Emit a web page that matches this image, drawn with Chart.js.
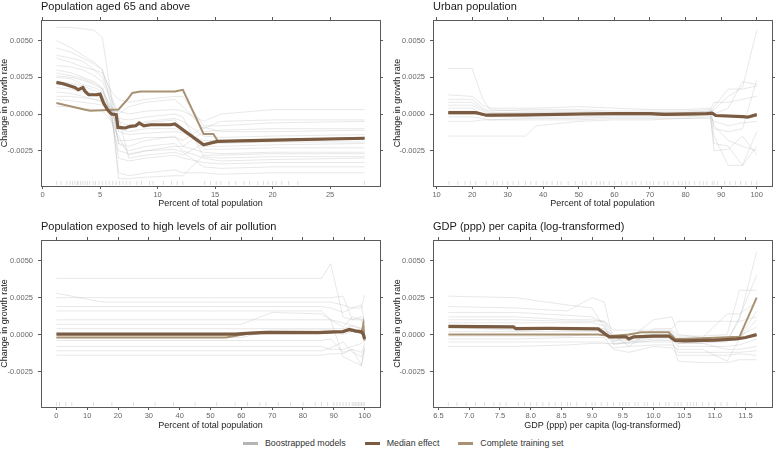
<!DOCTYPE html>
<html>
<head>
<meta charset="utf-8">
<script src="https://cdn.jsdelivr.net/npm/chart.js@4/dist/chart.umd.min.js"></script>
<style>
  body { margin: 0; background: #fff; width: 778px; height: 458px; position: relative; overflow: hidden;
         font-family: "Liberation Sans", Arial, sans-serif; }
  canvas { position: absolute; }
  #legend { position: absolute; top: 436px; left: 243px; height: 14px; display: flex; align-items: center;
            font-size: 8.8px; color: #333; white-space: nowrap; }
  #legend .key { width: 15px; height: 3px; margin-right: 7px; }
  #legend .lab { margin-right: 19px; }
</style>
</head>
<body>
<canvas id="pAged" width="389" height="215" style="left:0;top:0"></canvas>
<canvas id="pUrban" width="389" height="215" style="left:389px;top:0"></canvas>
<canvas id="pAir" width="389" height="215" style="left:0;top:215px"></canvas>
<canvas id="pGdp" width="389" height="215" style="left:389px;top:215px"></canvas>
<div id="legend">
  <span class="key" style="background:#b5b5b5"></span><span class="lab">Boostrapped models</span>
  <span class="key" style="background:#7b5b41"></span><span class="lab">Median effect</span>
  <span class="key" style="background:#a99274"></span><span class="lab">Complete training set</span>
</div>
<script>
(function(){
    "use strict";

    // shared y range and ticks (change in growth rate)
    var yMin = -0.0049, yMax = 0.0064;
    var yTicks = [-0.0025, 0, 0.0025, 0.005];

    // --- Population aged 65 and above ---
    var agedTicks = [0, 5, 10, 15, 20, 25];
    var agedMedX = [1.2, 1.8, 2.8, 3.1, 3.5, 3.7, 4.0, 4.7, 5.0, 5.3, 5.65, 6.0, 6.4, 6.55, 7.2, 7.6, 8.1, 8.4, 8.8, 9.4, 11.1, 11.5, 14.0, 15.2, 20, 28];
    var agedMed = [0.00215, 0.00206, 0.00181, 0.00165, 0.0018, 0.00154, 0.00131, 0.00131, 0.00136, 0.00075, 0.00029, 0.0, -0.00005, -0.00091, -0.00095, -0.00084, -0.0008, -0.00061, -0.0008, -0.00073, -0.00073, -0.00068, -0.0021, -0.00186, -0.00178, -0.00165];
    var agedCompX = [1.2, 3.7, 4.15, 6.6, 7.35, 7.8, 8.5, 11.5, 12.2, 14.0, 14.85, 15.25, 20, 28];
    var agedComp = [0.00075, 0.00029, 0.00022, 0.00031, 0.00097, 0.00143, 0.00154, 0.00154, 0.00165, -0.00136, -0.00136, -0.00186, -0.00178, -0.00165];
    var agedBootX = [1.2, 2.5, 3.5, 4.5, 5.2, 6, 6.6, 7.5, 9, 11.5, 12.2, 14, 15.5, 20, 28];
    var agedBoot = [
        [0.0059, 0.0059, 0.0058, 0.0057, 0.0052, 0.0010, -0.0010, -0.0012, -0.0010, -0.0010, -0.0012, -0.0022, -0.0022, -0.0021, -0.0020],
        [0.0050, 0.0045, 0.0040, 0.0035, 0.0030, 0.0005, -0.0020, -0.0025, -0.0022, -0.0020, -0.0025, -0.0030, -0.0032, -0.0031, -0.0030],
        [0.0038, 0.0035, 0.0032, 0.0030, 0.0028, 0.0015, 0.0010, 0.0008, 0.0010, 0.0012, 0.0012, -0.0008, -0.0008, -0.0006, -0.0005],
        [0.0030, 0.0028, 0.0025, 0.0022, 0.0018, 0.0002, -0.0040, -0.0042, -0.0040, -0.0038, -0.0040, -0.0040, -0.0041, -0.0040, -0.0040],
        [0.0025, 0.0024, 0.0020, 0.0018, 0.0015, 0.0005, -0.0005, -0.0008, -0.0005, -0.0003, -0.0005, -0.0015, -0.0016, -0.0015, -0.0014],
        [0.0020, 0.0019, 0.0016, 0.0014, 0.0012, -0.0002, -0.0030, -0.0032, -0.0030, -0.0028, -0.0030, -0.0033, -0.0034, -0.0033, -0.0033],
        [0.0015, 0.0014, 0.0012, 0.0010, 0.0008, 0.0003, -0.0012, -0.0014, -0.0013, -0.0012, -0.0013, -0.0018, -0.0018, -0.0018, -0.0017],
        [0.0010, 0.0009, 0.0008, 0.0007, 0.0006, 0.0001, 0.0002, 0.0000, 0.0002, 0.0003, 0.0002, -0.0005, 0.0000, 0.0003, 0.0003],
        [0.0033, 0.0032, 0.0030, 0.0026, 0.0022, 0.0008, -0.0020, -0.0022, -0.0018, -0.0015, -0.0022, -0.0026, -0.0027, -0.0026, -0.0026],
        [0.0005, 0.0005, 0.0004, 0.0003, 0.0002, -0.0005, -0.0015, -0.0028, -0.0025, -0.0022, -0.0022, -0.0012, -0.0011, -0.0010, -0.0010],
        [0.0028, 0.0026, 0.0024, 0.0021, 0.0017, 0.0000, -0.0008, -0.0010, -0.0006, -0.0004, -0.0010, -0.0024, -0.0024, -0.0023, -0.0023],
        [0.0018, 0.0017, 0.0015, 0.0013, 0.0010, -0.0005, -0.0025, -0.0027, -0.0025, -0.0024, -0.0026, -0.0036, -0.0037, -0.0036, -0.0036],
        [0.0045, 0.0042, 0.0038, 0.0034, 0.0030, 0.0012, 0.0000, 0.0005, 0.0008, 0.0010, 0.0005, -0.0010, -0.0005, -0.0004, -0.0004],
        [0.0022, 0.0021, 0.0019, 0.0016, 0.0013, 0.0002, -0.0044, -0.0044, -0.0043, -0.0042, -0.0042, -0.0028, -0.0028, -0.0027, -0.0027],
        [0.0040, 0.0038, 0.0036, 0.0030, 0.0025, 0.0010, -0.0002, -0.0030, -0.0028, -0.0026, -0.0028, -0.0020, -0.0020, -0.0019, -0.0019],
        [0.0026, 0.0025, 0.0023, 0.0020, 0.0017, -0.0003, -0.0018, -0.0018, -0.0016, -0.0016, -0.0018, -0.0009, -0.0012, -0.0012, -0.0011],
        [0.0012, 0.0012, 0.0011, 0.0010, 0.0009, 0.0004, -0.0003, -0.0004, -0.0002, 0.0000, -0.0002, -0.0029, -0.0030, -0.0029, -0.0029]
    ];
    var agedRug = [1.2, 1.6, 2.1, 2.4, 2.6, 2.8, 3.0, 3.1, 3.3, 3.5, 3.7, 3.9, 4.1, 4.4, 4.6, 4.9, 5.2, 5.5, 5.8, 6.1, 6.4, 6.7, 7.0, 7.3, 7.6, 8.2, 8.6, 9.3, 9.6, 10.5, 11.2, 11.7, 12.2, 14.1, 14.6, 15.1, 15.5, 16.2, 16.8, 17.5, 18.0, 18.7, 19.2, 19.6, 20.0, 20.3, 20.8, 21.4, 22.2, 28.0];

    // --- Urban population ---
    var urbanTicks = [10, 20, 30, 40, 50, 60, 70, 80, 90, 100];
    var urbanMedX = [13.3, 21, 24, 35, 52, 60, 70, 74, 86, 87.5, 88.5, 96, 97.5, 100];
    var urbanMed = [0.0001, 0.0001, -0.00008, -0.00006, 0.0, 0.00003, 0.00003, -0.00003, 0.00003, 0.00006, -0.0001, -0.00018, -0.00022, -0.00005];
    var urbanComp = [0.00005, 0.00005, -0.0001, -0.00008, 0.00002, 0.0, 0.00002, -0.00005, 0.0, 0.00004, -0.00012, -0.00015, -0.00018, 0.0];
    var urbanBootX = [13.3, 20, 23, 25, 35, 38, 50, 60, 70, 80, 87, 88, 92, 96, 100];
    var urbanBoot = [
        [0.0031, 0.0031, 0.0010, 0.0003, 0.0002, 0.0002, 0.0002, 0.0001, 0.0001, 0.0001, 0.0002, 0.0003, 0.0012, 0.0018, 0.0057],
        [-0.0015, -0.0015, -0.0015, -0.0015, -0.0015, -0.0008, -0.0005, -0.0004, -0.0004, -0.0003, -0.0003, -0.0020, -0.0022, -0.0035, -0.0022],
        [0.0013, 0.0012, 0.0006, 0.0004, 0.0004, 0.0004, 0.0005, 0.0004, 0.0003, 0.0003, 0.0004, -0.0010, -0.0012, -0.0010, 0.0023],
        [-0.0005, -0.0005, -0.0004, -0.0004, -0.0003, -0.0003, -0.0003, -0.0002, -0.0002, -0.0002, -0.0001, -0.0025, -0.0024, -0.0015, -0.0028],
        [0.0008, 0.0008, 0.0003, 0.0001, 0.0001, 0.0001, 0.0001, 0.0001, 0.0001, 0.0000, 0.0001, 0.0005, 0.0017, 0.0017, 0.0019],
        [0.0004, 0.0004, 0.0000, -0.0002, -0.0002, -0.0002, -0.0002, -0.0001, -0.0001, -0.0001, 0.0000, -0.0015, -0.0035, -0.0035, -0.0012],
        [0.0010, 0.0010, 0.0004, 0.0002, 0.0003, 0.0003, 0.0003, 0.0002, 0.0002, 0.0002, 0.0003, 0.0008, 0.0008, 0.0010, 0.0012],
        [-0.0002, -0.0002, -0.0003, -0.0004, -0.0004, -0.0004, -0.0004, -0.0003, -0.0003, -0.0003, -0.0002, -0.0005, -0.0008, -0.0006, -0.0005],
        [0.0002, 0.0002, -0.0001, -0.0001, -0.0001, 0.0000, 0.0000, 0.0000, 0.0000, 0.0000, 0.0001, -0.0008, -0.0018, -0.0022, -0.0025],
        [0.0006, 0.0006, 0.0002, 0.0000, 0.0000, 0.0000, 0.0001, 0.0001, 0.0001, 0.0001, 0.0002, 0.0000, 0.0004, 0.0022, 0.0020]
    ];
    var urbanRug = [13.5, 16, 18, 19.5, 21, 24, 26, 27, 28.5, 30, 31.5, 33, 35, 36.5, 38, 40, 41, 42.5, 44, 45, 47, 49, 51, 52, 53.5, 55, 56, 57, 58.5, 60, 62, 63.5, 65, 66, 67.5, 69, 70, 71, 72.5, 74, 75, 76.5, 78, 79, 80, 81, 82.5, 84, 85, 86, 87.5, 88, 89, 91, 92.5, 94, 95.5, 97, 98.5, 100];

    // --- Population exposed to high levels of air pollution ---
    var airTicks = [0, 10, 20, 30, 40, 50, 60, 70, 80, 90, 100];
    var airMedX = [0, 58, 63, 68, 85, 90, 93, 95, 97, 99, 99.6, 100];
    var airMed = [0.00003, 0.00003, 0.0001, 0.00015, 0.00013, 0.00018, 0.0002, 0.00035, 0.00025, 0.0002, 0.0, -0.0003];
    var airCompX = [0, 55, 62, 68, 85, 90, 93, 95, 97, 99, 99.6, 100];
    var airComp = [-0.0002, -0.0002, 0.00005, 0.0001, 0.0001, 0.00015, 0.0002, 0.0003, 0.0002, 0.0001, 0.0007, -0.0004];
    var airBootX = [0, 15, 50, 60, 70, 86, 89, 93, 96, 99, 100];
    var airBoot = [
        [0.0038, 0.0038, 0.0038, 0.0038, 0.0038, 0.0038, 0.0048, 0.0012, 0.0010, 0.0012, 0.0008],
        [0.0028, 0.0022, 0.0022, 0.0022, 0.0022, 0.0022, 0.0022, 0.0020, 0.0018, 0.0018, 0.0027],
        [0.0025, 0.0025, 0.0025, 0.0025, 0.0025, 0.0025, 0.0025, 0.0026, 0.0010, 0.0010, 0.0005],
        [0.0019, 0.0019, 0.0019, 0.0019, 0.0019, 0.0019, 0.0018, 0.0015, 0.0018, 0.0020, 0.0008],
        [0.0016, 0.0016, 0.0016, 0.0016, 0.0016, 0.0016, 0.0010, 0.0005, 0.0012, 0.0010, 0.0000],
        [0.0010, 0.0010, 0.0010, 0.0010, 0.0010, 0.0010, 0.0010, -0.0015, -0.0018, -0.0021, -0.0010],
        [0.0007, 0.0007, 0.0007, 0.0007, 0.0015, 0.0014, 0.0010, 0.0008, 0.0006, 0.0004, 0.0002],
        [0.0004, 0.0004, 0.0004, 0.0004, 0.0004, 0.0004, 0.0004, 0.0004, 0.0006, 0.0004, -0.0005],
        [-0.0004, -0.0004, -0.0004, -0.0004, -0.0004, -0.0004, -0.0003, -0.0012, -0.0010, -0.0021, -0.0008],
        [-0.0008, -0.0008, -0.0008, -0.0008, -0.0008, -0.0008, -0.0010, -0.0010, -0.0008, -0.0006, -0.0004],
        [-0.0011, -0.0011, -0.0011, -0.0011, -0.0011, -0.0011, -0.0009, -0.0005, -0.0012, -0.0015, -0.0010],
        [-0.0014, -0.0014, -0.0014, -0.0014, -0.0014, -0.0014, -0.0013, -0.0013, -0.0010, -0.0012, -0.0006],
        [-0.0002, -0.0002, -0.0002, -0.0002, 0.0003, 0.0003, 0.0003, 0.0000, 0.0002, 0.0002, 0.0001]
    ];
    var airRug = [0, 1, 3, 5, 12, 18, 25, 32, 38, 45, 52, 58, 62, 66, 68, 72, 76, 80, 84, 86, 88, 90, 91, 92, 93, 94, 95, 96, 96.5, 97, 97.5, 98, 98.5, 99, 99.5, 100];

    // --- GDP (ppp) per capita (log-transformed) ---
    var gdpTicks = [6.5, 7.0, 7.5, 8.0, 8.5, 9.0, 9.5, 10.0, 10.5, 11.0, 11.5];
    var gdpMedX = [6.66, 7.72, 7.76, 8.3, 9.1, 9.28, 9.55, 9.6, 9.68, 10.0, 10.25, 10.35, 10.5, 11.0, 11.35, 11.5, 11.68];
    var gdpMed = [0.00055, 0.00052, 0.0004, 0.00042, 0.00038, -0.00015, -0.00015, -0.0003, -0.00015, -0.0001, -0.0001, -0.0004, -0.00042, -0.00038, -0.0003, -0.0002, 0.0];
    var gdpCompX = [6.66, 9.1, 9.3, 9.6, 9.8, 10.25, 10.35, 10.5, 11.4, 11.68];
    var gdpComp = [0.0, 0.0, -0.0001, 0.0, 0.00015, 0.00015, -0.0003, -0.0003, -0.00015, 0.0025];
    var gdpBootX = [6.66, 7.75, 8.6, 9.0, 9.2, 9.35, 9.6, 10.0, 10.3, 10.4, 10.8, 11.2, 11.4, 11.68];
    var gdpBoot = [
        [0.0026, 0.0025, 0.0020, 0.0018, 0.0005, -0.0002, -0.0002, 0.0000, 0.0000, -0.0005, -0.0006, -0.0004, 0.0010, 0.0056],
        [0.0019, 0.0018, 0.0016, 0.0025, 0.0022, -0.0005, 0.0000, 0.0002, 0.0002, -0.0006, -0.0005, -0.0005, 0.0012, 0.0040],
        [0.0012, 0.0012, 0.0010, 0.0010, 0.0009, 0.0000, -0.0008, 0.0004, 0.0004, 0.0009, 0.0009, 0.0009, 0.0009, 0.0012],
        [0.0008, 0.0008, 0.0008, 0.0008, 0.0006, -0.0007, -0.0005, -0.0003, -0.0003, -0.0018, -0.0019, -0.0019, -0.0017, -0.0017],
        [-0.0005, -0.0005, -0.0005, -0.0005, -0.0005, -0.0009, -0.0008, -0.0007, -0.0007, -0.0010, -0.0010, -0.0018, -0.0003, 0.0010],
        [-0.0008, -0.0008, -0.0007, -0.0006, -0.0006, -0.0006, -0.0005, -0.0005, -0.0005, -0.0012, -0.0012, -0.0012, -0.0012, -0.0011],
        [0.0015, 0.0015, 0.0013, 0.0012, 0.0008, -0.0003, -0.0003, 0.0010, 0.0012, 0.0000, -0.0002, 0.0014, 0.0014, 0.0022],
        [0.0002, 0.0002, 0.0002, 0.0002, 0.0002, -0.0004, -0.0004, -0.0002, -0.0002, -0.0008, -0.0008, -0.0008, -0.0007, -0.0003],
        [0.0005, 0.0003, 0.0004, 0.0005, 0.0004, -0.0002, -0.0001, -0.0001, -0.0001, -0.0004, -0.0004, -0.0004, -0.0003, 0.0016],
        [-0.0003, -0.0003, -0.0002, -0.0002, -0.0002, -0.0010, -0.0012, -0.0008, -0.0009, -0.0014, -0.0014, -0.0014, -0.0013, -0.0014],
        [0.0010, 0.0010, 0.0009, 0.0009, 0.0009, 0.0003, 0.0003, 0.0003, 0.0003, -0.0001, -0.0001, 0.0000, 0.0030, 0.0030],
        [0.0004, 0.0004, 0.0004, 0.0004, 0.0003, -0.0001, -0.0002, 0.0000, 0.0000, -0.0002, -0.0002, -0.0002, -0.0001, 0.0005],
        [-0.0001, -0.0001, -0.0001, 0.0000, 0.0000, -0.0006, -0.0006, -0.0004, -0.0004, -0.0006, -0.0006, -0.0010, -0.0010, -0.0008]
    ];
    var gdpRug = [6.66, 6.8, 6.95, 7.1, 7.25, 7.4, 7.5, 7.6, 7.8, 7.9, 8.0, 8.1, 8.2, 8.3, 8.4, 8.5, 8.6, 8.65, 8.75, 8.9, 9.0, 9.05, 9.15, 9.25, 9.35, 9.45, 9.5, 9.55, 9.6, 9.7, 9.75, 9.85, 9.9, 10.0, 10.1, 10.2, 10.25, 10.35, 10.4, 10.45, 10.55, 10.6, 10.65, 10.7, 10.8, 10.9, 11.0, 11.1, 11.2, 11.35, 11.5, 11.68];

    var FONT = "'Liberation Sans', Arial, sans-serif";
    var MEDIAN = "#7b5b41", COMPLETE = "#a99274", BOOT = "rgba(175,175,175,0.42)", AXIS = "#5a5a5a";

    function pts(xs, ys) {
        return xs.map(function(x, i){ return { x: x, y: ys[i] }; });
    }

    var rugPlugin = {
        id: "rug",
        beforeDatasetsDraw: function(chart, args, opts) {
            var ctx = chart.ctx, area = chart.chartArea, sx = chart.scales.x;
            ctx.save();
            ctx.strokeStyle = "rgba(140,140,140,0.4)";
            ctx.lineWidth = 0.7;
            (opts.values || []).forEach(function(v){
                var px = sx.getPixelForValue(v);
                ctx.beginPath();
                ctx.moveTo(px, area.bottom - 1);
                ctx.lineTo(px, area.bottom - 5);
                ctx.stroke();
            });
            ctx.restore();
        }
    };

    function fixW(w) { return function(s){ s.width = w; }; }
    function fixH(h) { return function(s){ s.height = h; }; }
    function useTicks(list) {
        return function(s){ s.ticks = list.map(function(v){ return { value: v }; }); };
    }

    function panel(id, p) {
        var datasets = [
            { label: "Median effect", data: pts(p.medX, p.med), borderColor: MEDIAN, borderWidth: 3.2 },
            { label: "Complete training set", data: pts(p.compX, p.comp), borderColor: COMPLETE, borderWidth: 2 }
        ];
        p.boot.forEach(function(ys){
            datasets.push({ label: "Boostrapped models", data: pts(p.bootX, ys), borderColor: BOOT, borderWidth: 0.7 });
        });
        var tickFont = { family: FONT, size: 7.5 };
        var axisGrid = { display: true, drawOnChartArea: false, tickLength: 3, color: AXIS };
        return new Chart(document.getElementById(id), {
            type: "line",
            data: { datasets: datasets },
            options: {
                responsive: false,
                animation: false,
                events: [],
                elements: { point: { radius: 0 }, line: { tension: 0 } },
                layout: { padding: 0 },
                plugins: {
                    legend: { display: false },
                    tooltip: { enabled: false },
                    rug: { values: p.rug },
                    title: {
                        display: true, text: p.title, align: "start", fullSize: false, color: "#1a1a1a",
                        font: { family: FONT, size: 11, weight: "normal", lineHeight: 1 },
                        padding: { top: p.titleTop, bottom: 4 }
                    }
                },
                scales: {
                    x: {
                        type: "linear", position: "bottom", min: p.xMin, max: p.xMax,
                        afterFit: fixH(p.bottomH),
                        afterBuildTicks: useTicks(p.ticks),
                        border: { color: AXIS, width: 1 },
                        grid: axisGrid,
                        ticks: { maxRotation: 0, autoSkip: false, padding: 1.5, color: "#666", font: tickFont,
                                 callback: function(v){ return v.toFixed(p.dec); } },
                        title: { display: true, text: p.xTitle, color: "#222",
                                 font: { family: FONT, size: 9, lineHeight: 1 }, padding: { top: 0, bottom: p.xTitlePad } }
                    },
                    xTop: {
                        type: "linear", position: "top", min: p.xMin, max: p.xMax,
                        afterFit: fixH(4),
                        afterBuildTicks: useTicks(p.ticks),
                        border: { color: AXIS, width: 1 },
                        grid: axisGrid,
                        ticks: { display: false }
                    },
                    y: {
                        type: "linear", position: "left", min: yMin, max: yMax,
                        afterFit: fixW(p.leftW),
                        afterBuildTicks: useTicks(yTicks),
                        border: { color: AXIS, width: 1 },
                        grid: axisGrid,
                        ticks: { padding: 5, color: "#666", font: tickFont,
                                 callback: function(v){ return v.toFixed(4); } },
                        title: { display: true, text: "Change in growth rate", color: "#222",
                                 font: { family: FONT, size: 9, lineHeight: 1 }, padding: { top: p.yTitlePad, bottom: 0 } }
                    },
                    yRight: {
                        type: "linear", position: "right", min: yMin, max: yMax,
                        afterFit: fixW(p.rightW),
                        afterBuildTicks: useTicks(yTicks),
                        border: { color: AXIS, width: 1 },
                        grid: axisGrid,
                        ticks: { display: false }
                    }
                }
            },
            plugins: [rugPlugin]
        });
    }

    panel("pAged", {
        title: "Population aged 65 and above", xTitle: "Percent of total population",
        xMin: -0.14, xMax: 29.34, ticks: agedTicks, dec: 0,
        medX: agedMedX, med: agedMed, compX: agedCompX, comp: agedComp, bootX: agedBootX, boot: agedBoot, rug: agedRug,
        leftW: 41, rightW: 9, bottomH: 29, titleTop: 1, xTitlePad: 6.5, yTitlePad: 0
    });
    panel("pUrban", {
        title: "Urban population", xTitle: "Percent of total population",
        xMin: 9, xMax: 104.3, ticks: urbanTicks, dec: 0,
        medX: urbanMedX, med: urbanMed, compX: urbanMedX, comp: urbanComp, bootX: urbanBootX, boot: urbanBoot, rug: urbanRug,
        leftW: 44, rightW: 6, bottomH: 29, titleTop: 1, xTitlePad: 6.5, yTitlePad: 4.5
    });
    panel("pAir", {
        title: "Population exposed to high levels of air pollution", xTitle: "Percent of total population",
        xMin: -5, xMax: 105, ticks: airTicks, dec: 0,
        medX: airMedX, med: airMed, compX: airCompX, comp: airComp, bootX: airBootX, boot: airBoot, rug: airRug,
        leftW: 41, rightW: 9, bottomH: 23, titleTop: 6, xTitlePad: 0, yTitlePad: 0
    });
    panel("pGdp", {
        title: "GDP (ppp) per capita (log-transformed)", xTitle: "GDP (ppp) per capita (log-transformed)",
        xMin: 6.41, xMax: 11.93, ticks: gdpTicks, dec: 1,
        medX: gdpMedX, med: gdpMed, compX: gdpCompX, comp: gdpComp, bootX: gdpBootX, boot: gdpBoot, rug: gdpRug,
        leftW: 44, rightW: 6, bottomH: 23, titleTop: 6, xTitlePad: 0, yTitlePad: 4.5
    });
})();
</script>
</body>
</html>
